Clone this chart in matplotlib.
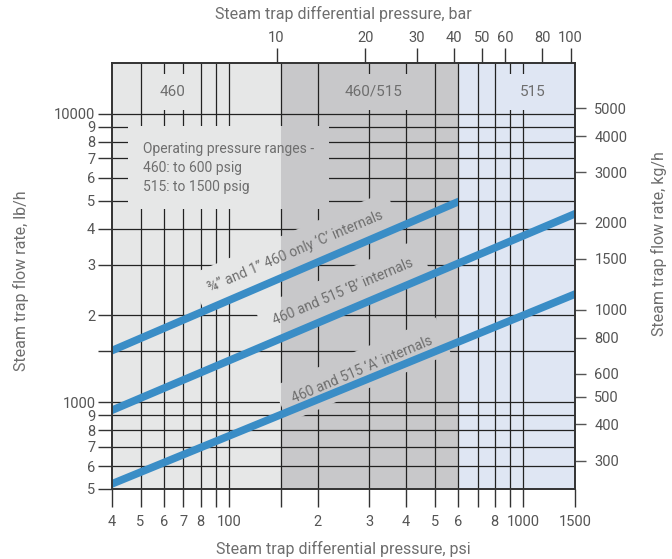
import matplotlib
matplotlib.use("Agg")
import matplotlib.pyplot as plt
from matplotlib.patches import Polygon, Rectangle
from matplotlib.ticker import FixedLocator, FixedFormatter, NullLocator

plt.rcParams['font.family'] = ['Roboto', 'DejaVu Sans']

# internals lines: differential pressure (psi) vs flow (lb/h) at the line ends
psi_C = [40, 600]
flow_C = [1510, 4950]
psi_B = [40, 1500]
flow_B = [938, 4500]
psi_A = [40, 1500]
flow_A = [521, 2370]

# trap model bands (psi)
band_edges = [40, 150, 600, 1500]
band_colors = ['#e6e7e7', '#c8c8ca', '#dfe6f3']
band_names = ['460', '460/515', '515']
band_label_x = [64, 310, 1080]

psi_ticks = [40, 50, 60, 70, 80, 90, 100, 150, 200, 300, 400, 500, 600, 700, 800, 900, 1000, 1500]
psi_labels = ['4', '5', '6', '7', '8', '', '100', '', '2', '3', '4', '5', '6', '', '8', '', '1000', '1500']
bar_ticks = [10, 20, 30, 40, 50, 60, 80, 100]
lb_ticks = [500, 600, 700, 800, 900, 1000, 1500, 2000, 3000, 4000, 5000, 6000, 7000, 8000, 9000, 10000]
lb_labels = ['5', '6', '7', '8', '9', '1000', '', '2', '3', '4', '5', '6', '7', '8', '9', '10000']
kg_ticks = [300, 400, 500, 600, 800, 1000, 1500, 2000, 3000, 4000, 5000]

x_min, x_max = 40, 1500
y_min, y_max = 500, 15000
psi_per_bar = 14.5
kg_per_lb = 0.478

line_col = '#3a8dc6'
txt_col = '#6e6e6e'
tick_col = '#555555'
frame_col = '#333333'

fig = plt.figure(figsize=(6.72, 5.59), dpi=100)
ax = fig.add_axes([112/672, 70/559, 463/672, 426/559])
ax.set_xscale('log')
ax.set_yscale('log')
ax.set_xlim(x_min, x_max)
ax.set_ylim(y_min, y_max)

# background bands
for x0, x1, c in zip(band_edges[:-1], band_edges[1:], band_colors):
    ax.axvspan(x0, x1, color=c, lw=0, zorder=0)

# grid lines
ax.vlines(psi_ticks[1:-1], y_min, y_max, colors='#222222', lw=0.9, zorder=1)
ax.hlines(lb_ticks[1:], x_min, x_max, colors='#222222', lw=0.9, zorder=1)

# internals lines
lc, = ax.plot(psi_C, flow_C, color=line_col, lw=5.5, solid_capstyle='projecting', zorder=4)
lc.set_clip_path(Rectangle((x_min, y_min), band_edges[2] - x_min, y_max - y_min, transform=ax.transData))
ax.plot(psi_B, flow_B, color=line_col, lw=5.5, solid_capstyle='projecting', zorder=4)
ax.plot(psi_A, flow_A, color=line_col, lw=5.5, solid_capstyle='projecting', zorder=4)

# texts that cut the grid
gap_texts = []
yx = ax.get_xaxis_transform()
for name, xl in zip(band_names, band_label_x):
    gap_texts.append(ax.text(xl, 0.932, name, transform=yx, ha='center', va='center',
                             fontsize=11, color=txt_col, zorder=5,
                             bbox=dict(boxstyle='square,pad=0.7', fc='none', ec='none')))

gap_texts.append(ax.text(51, 8000, 'Operating pressure ranges -\n460: to 600 psig\n515: to 1500 psig',
                         ha='left', va='top', fontsize=10, color=txt_col, linespacing=1.45, zorder=5,
                         bbox=dict(boxstyle='square,pad=1.1', fc='none', ec='none')))

rot_labels = ['\u00be\u201d and 1\u201d 460 only \u2018C\u2019 internals',
              '460 and 515 \u2018B\u2019 internals',
              '460 and 515 \u2018A\u2019 internals']
rot_x = [168, 244, 283]
rot_y = [3330, 2415, 1294]
for s, xl, yl in zip(rot_labels, rot_x, rot_y):
    gap_texts.append(ax.text(xl, yl, s, ha='center', va='center', rotation=23,
                             rotation_mode='anchor', fontsize=10, color=txt_col, zorder=5,
                             bbox=dict(boxstyle='square,pad=0.9', fc='none', ec='none')))

# bottom axis (psi)
ax.xaxis.set_major_locator(FixedLocator(psi_ticks))
ax.xaxis.set_major_formatter(FixedFormatter(psi_labels))
ax.xaxis.set_minor_locator(NullLocator())
ax.tick_params(axis='x', direction='out', length=13, width=1, color=frame_col,
               labelsize=10.5, labelcolor=tick_col, pad=6)

# left axis (lb/h)
ax.yaxis.set_major_locator(FixedLocator(lb_ticks))
ax.yaxis.set_major_formatter(FixedFormatter(lb_labels))
ax.yaxis.set_minor_locator(NullLocator())
ax.tick_params(axis='y', direction='out', length=10, width=1, color=frame_col,
               labelsize=10.5, labelcolor=tick_col, pad=2)

for sp in ax.spines.values():
    sp.set_color(frame_col)
    sp.set_linewidth(1.4)
    sp.set_zorder(6)

# top axis (bar)
top = ax.secondary_xaxis('top', functions=(lambda p: p / psi_per_bar, lambda b: b * psi_per_bar))
top.xaxis.set_major_locator(FixedLocator(bar_ticks))
top.xaxis.set_major_formatter(FixedFormatter([str(b) for b in bar_ticks]))
top.xaxis.set_minor_locator(NullLocator())
top.tick_params(direction='out', length=11, width=1, color=frame_col,
                labelsize=10.5, labelcolor=tick_col, pad=2)
top.spines['top'].set_visible(False)
top.set_xlabel('Steam trap differential pressure, bar', fontsize=11.5, color=txt_col)
top.xaxis.set_label_coords(0.499, 1.104, transform=ax.transAxes)

# right axis (kg/h)
right = ax.secondary_yaxis('right', functions=(lambda f: f * kg_per_lb, lambda k: k / kg_per_lb))
right.yaxis.set_major_locator(FixedLocator(kg_ticks))
right.yaxis.set_major_formatter(FixedFormatter([str(k) for k in kg_ticks]))
right.yaxis.set_minor_locator(NullLocator())
right.tick_params(direction='out', length=8, width=1, color=tick_col,
                  labelsize=10.5, labelcolor=tick_col, pad=6)
right.spines['right'].set_visible(False)
right.set_ylabel('Steam trap flow rate, kg/h', fontsize=11.5, color=txt_col)
right.yaxis.set_label_coords(1.165, 0.575, transform=ax.transAxes)

ax.set_xlabel('Steam trap differential pressure, psi', fontsize=11.5, color=txt_col)
ax.xaxis.set_label_coords(0.499, -0.121)
ax.set_ylabel('Steam trap flow rate, lb/h', fontsize=11.5, color=txt_col)
ax.yaxis.set_label_coords(-0.18, 0.49)

# cut the grid behind the texts: refill each text box with the band colours
fig.canvas.draw()
inv = ax.transData.inverted()
for t in gap_texts:
    p = t.get_bbox_patch()
    verts = inv.transform(p.get_transform().transform(p.get_path().vertices))
    for x0, x1, c in zip(band_edges[:-1], band_edges[1:], band_colors):
        poly = Polygon(verts, closed=True, fc=c, ec='none', zorder=2)
        ax.add_patch(poly)
        poly.set_clip_path(Rectangle((x0, y_min), x1 - x0, y_max - y_min, transform=ax.transData))

ax.set_xlim(x_min, x_max)
ax.set_ylim(y_min, y_max)
fig.savefig('out.png', dpi=100)
